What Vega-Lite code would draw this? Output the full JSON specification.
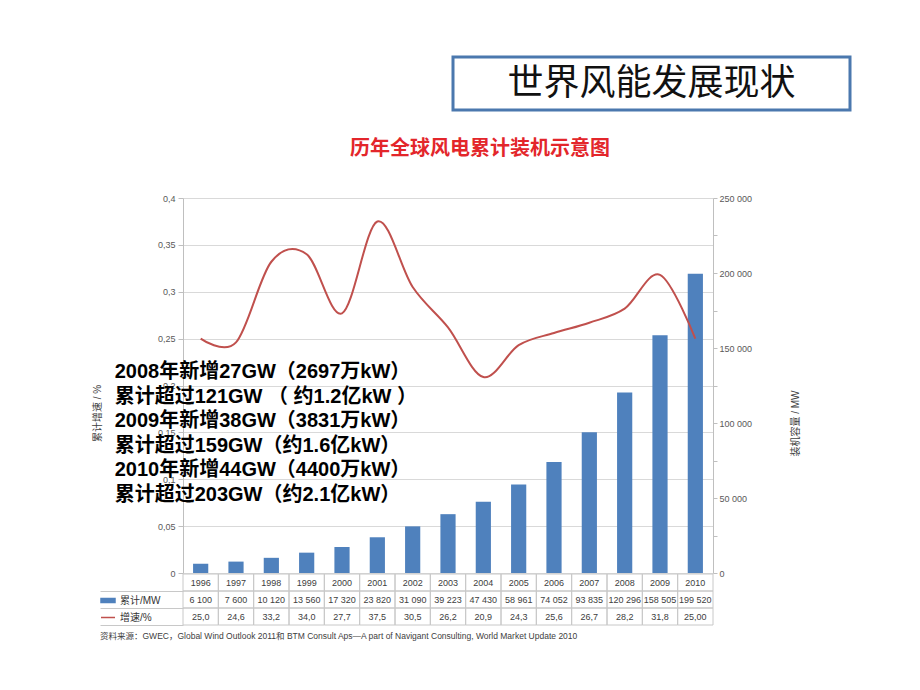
{
  "$schema": "https://vega.github.io/schema/vega-lite/v6.json",
  "autosize": {"type": "none"},
  "padding": {"left": 183, "top": 57, "right": 737, "bottom": 633},
  "background": "white",
  "config": {
    "font": "Liberation Sans, Noto Sans CJK SC",
    "view": {"stroke": null}
  },
  "datasets": {
    "main": [
      {"year": "1996", "mw": 6100, "growth": 0.250},
      {"year": "1997", "mw": 7600, "growth": 0.246},
      {"year": "1998", "mw": 10120, "growth": 0.332},
      {"year": "1999", "mw": 13560, "growth": 0.340},
      {"year": "2000", "mw": 17320, "growth": 0.277},
      {"year": "2001", "mw": 23820, "growth": 0.375},
      {"year": "2002", "mw": 31090, "growth": 0.305},
      {"year": "2003", "mw": 39223, "growth": 0.262},
      {"year": "2004", "mw": 47430, "growth": 0.209},
      {"year": "2005", "mw": 58961, "growth": 0.243},
      {"year": "2006", "mw": 74052, "growth": 0.256},
      {"year": "2007", "mw": 93835, "growth": 0.267},
      {"year": "2008", "mw": 120296, "growth": 0.282},
      {"year": "2009", "mw": 158505, "growth": 0.318},
      {"year": "2010", "mw": 199520, "growth": 0.250}
    ],
    "table": [
      {"year": "1996", "row": "年份", "val": "1996"},
      {"year": "1997", "row": "年份", "val": "1997"},
      {"year": "1998", "row": "年份", "val": "1998"},
      {"year": "1999", "row": "年份", "val": "1999"},
      {"year": "2000", "row": "年份", "val": "2000"},
      {"year": "2001", "row": "年份", "val": "2001"},
      {"year": "2002", "row": "年份", "val": "2002"},
      {"year": "2003", "row": "年份", "val": "2003"},
      {"year": "2004", "row": "年份", "val": "2004"},
      {"year": "2005", "row": "年份", "val": "2005"},
      {"year": "2006", "row": "年份", "val": "2006"},
      {"year": "2007", "row": "年份", "val": "2007"},
      {"year": "2008", "row": "年份", "val": "2008"},
      {"year": "2009", "row": "年份", "val": "2009"},
      {"year": "2010", "row": "年份", "val": "2010"},
      {"year": "1996", "row": "累计/MW", "val": "6 100"},
      {"year": "1997", "row": "累计/MW", "val": "7 600"},
      {"year": "1998", "row": "累计/MW", "val": "10 120"},
      {"year": "1999", "row": "累计/MW", "val": "13 560"},
      {"year": "2000", "row": "累计/MW", "val": "17 320"},
      {"year": "2001", "row": "累计/MW", "val": "23 820"},
      {"year": "2002", "row": "累计/MW", "val": "31 090"},
      {"year": "2003", "row": "累计/MW", "val": "39 223"},
      {"year": "2004", "row": "累计/MW", "val": "47 430"},
      {"year": "2005", "row": "累计/MW", "val": "58 961"},
      {"year": "2006", "row": "累计/MW", "val": "74 052"},
      {"year": "2007", "row": "累计/MW", "val": "93 835"},
      {"year": "2008", "row": "累计/MW", "val": "120 296"},
      {"year": "2009", "row": "累计/MW", "val": "158 505"},
      {"year": "2010", "row": "累计/MW", "val": "199 520"},
      {"year": "1996", "row": "增速/%", "val": "25,0"},
      {"year": "1997", "row": "增速/%", "val": "24,6"},
      {"year": "1998", "row": "增速/%", "val": "33,2"},
      {"year": "1999", "row": "增速/%", "val": "34,0"},
      {"year": "2000", "row": "增速/%", "val": "27,7"},
      {"year": "2001", "row": "增速/%", "val": "37,5"},
      {"year": "2002", "row": "增速/%", "val": "30,5"},
      {"year": "2003", "row": "增速/%", "val": "26,2"},
      {"year": "2004", "row": "增速/%", "val": "20,9"},
      {"year": "2005", "row": "增速/%", "val": "24,3"},
      {"year": "2006", "row": "增速/%", "val": "25,6"},
      {"year": "2007", "row": "增速/%", "val": "26,7"},
      {"year": "2008", "row": "增速/%", "val": "28,2"},
      {"year": "2009", "row": "增速/%", "val": "31,8"},
      {"year": "2010", "row": "增速/%", "val": "25,00"}
    ]
  },
  "bounds": "flush",
  "spacing": 141,
  "resolve": {"scale": {"color": "independent"}, "legend": {"color": "independent"}},
  "vconcat": [
    {
      "bounds": "flush",
      "spacing": 0,
      "hconcat": [
        {
          "width": 270,
          "height": 53,
          "data": {"values": []},
          "mark": {"type": "text"},
          "encoding": {}
        },
        {
          "width": 397,
          "height": 53,
          "view": {"stroke": "#4b78ae", "strokeWidth": 3, "fill": "white"},
          "data": {"values": [{"t": "世界风能发展现状"}]},
          "mark": {"type": "text", "font": "Noto Sans CJK SC", "fontSize": 36, "fontWeight": "normal", "color": "#111111"},
          "encoding": {"text": {"field": "t"}}
        }
      ]
    },
    {
      "bounds": "flush",
      "spacing": 1,
      "resolve": {"scale": {"color": "independent"}, "legend": {"color": "independent"}},
      "vconcat": [
        {
          "width": 530,
          "height": 375,
          "title": {
            "text": "历年全球风电累计装机示意图",
            "font": "Noto Sans CJK SC",
            "fontSize": 20,
            "fontWeight": "bold",
            "color": "#e3262b",
            "anchor": "middle",
            "frame": "group",
            "dx": 32,
            "offset": 35
          },
          "data": {"name": "main"},
          "encoding": {
            "x": {"field": "year", "type": "ordinal", "axis": null, "scale": {"paddingInner": 0, "paddingOuter": 0}}
          },
          "layer": [
            {
              "mark": {"type": "bar", "width": {"band": 0.43}},
              "encoding": {
                "y": {
                  "field": "mw", "type": "quantitative",
                  "scale": {"domain": [0, 250000], "nice": false},
                  "axis": {
                    "orient": "right",
                    "title": "装机容量 / MW",
                    "titleAngle": 270,
                    "titleY": 225,
                    "values": [0, 25000, 50000, 75000, 100000, 125000, 150000, 175000, 200000, 225000, 250000],
                    "labelExpr": "datum.value % 50000 === 0 ? replace(format(datum.value, ','), ',', ' ') : ''",
                    "labelFontSize": 9,
                    "labelColor": "#595959",
                    "labelPadding": 2,
                    "tickSize": 4,
                    "tickColor": "#bfbfbf",
                    "domainColor": "#bfbfbf",
                    "grid": false,
                    "titleFontSize": 10,
                    "titleFontWeight": "normal",
                    "titleColor": "#404040",
                    "titlePadding": 49
                  }
                },
                "color": {
                  "datum": "累计/MW",
                  "scale": {"domain": ["累计/MW", "增速/%"], "range": ["#4f81bd", "#c0504d"]},
                  "legend": {
                    "orient": "none",
                    "legendX": -83,
                    "legendY": 394,
                    "title": null,
                    "direction": "vertical",
                    "padding": 0,
                    "rowPadding": 0,
                    "clipHeight": 17,
                    "symbolSize": 196,
                    "labelOffset": 4,
                    "labelFontSize": 10,
                    "labelColor": "#333333",
                    "encode": {
                      "symbols": {
                        "update": {
                          "shape": {"signal": "datum.value === '累计/MW' ? 'M-1,-0.3H1V0.3H-1Z' : 'stroke'"},
                          "fill": {"signal": "datum.value === '累计/MW' ? '#4f81bd' : 'transparent'"},
                          "stroke": {"signal": "datum.value === '累计/MW' ? 'transparent' : '#c0504d'"},
                          "strokeWidth": {"value": 1.5},
                          "opacity": {"value": 1}
                        }
                      }
                    }
                  }
                }
              }
            },
            {
              "mark": {"type": "line", "interpolate": "cardinal", "strokeWidth": 2},
              "encoding": {
                "y": {
                  "field": "growth", "type": "quantitative",
                  "scale": {"domain": [0, 0.4], "nice": false},
                  "axis": {
                    "orient": "left",
                    "title": "累计增速 / %",
                    "titleY": 215,
                    "values": [0, 0.05, 0.1, 0.15, 0.2, 0.25, 0.3, 0.35, 0.4],
                    "labelExpr": "replace(format(datum.value, '.2~f'), '.', ',')",
                    "labelFontSize": 9,
                    "labelColor": "#595959",
                    "labelPadding": 3,
                    "tickSize": 5,
                    "tickColor": "#bfbfbf",
                    "domainColor": "#bfbfbf",
                    "grid": true,
                    "gridColor": "#d9d9d9",
                    "titleFontSize": 10,
                    "titleFontWeight": "normal",
                    "titleColor": "#404040",
                    "titlePadding": 55
                  }
                },
                "color": {"datum": "增速/%"}
              }
            },
            {
              "data": {"values": [{"note": "2008年新增27GW（2697万kW）\n累计超过121GW （ 约1.2亿kW ）\n2009年新增38GW（3831万kW）\n累计超过159GW（约1.6亿kW）\n2010年新增44GW（4400万kW）\n累计超过203GW（约2.1亿kW）"}]},
              "mark": {
                "type": "text",
                "align": "left",
                "baseline": "alphabetic",
                "dx": -86,
                "fontSize": 20,
                "fontWeight": "bold",
                "lineHeight": 24.5,
                "lineBreak": "\n",
                "color": "#000000"
              },
              "encoding": {
                "x": {"datum": "1996"},
                "y": {"datum": 0.208, "scale": {"domain": [0, 0.4], "nice": false}, "axis": null},
                "text": {"field": "note"}
              }
            }
          ],
          "resolve": {"scale": {"y": "independent"}}
        },
        {
          "width": 530,
          "height": 51,
          "data": {"name": "table"},
          "title": {
            "text": "资料来源：GWEC，Global Wind Outlook 2011和 BTM Consult Aps—A part of Navigant Consulting, World Market Update 2010",
            "orient": "bottom",
            "anchor": "start",
            "frame": "group",
            "dx": -83,
            "offset": 6,
            "fontSize": 8.5,
            "fontWeight": "normal",
            "color": "#404040"
          },
          "encoding": {
            "x": {"field": "year", "type": "ordinal", "axis": null, "scale": {"paddingInner": 0, "paddingOuter": 0}},
            "y": {
              "field": "row", "type": "ordinal",
              "scale": {"domain": ["年份", "累计/MW", "增速/%"], "paddingInner": 0, "paddingOuter": 0},
              "axis": {
                "title": null,
                "labels": false,
                "domain": false,
                "ticks": true,
                "tickSize": 83,
                "bandPosition": 1,
                "tickColor": "#c8c8c8",
                "grid": false
              }
            }
          },
          "layer": [
            {"mark": {"type": "rect", "filled": false, "stroke": "#c8c8c8", "strokeWidth": 1}},
            {
              "mark": {"type": "text", "fontSize": 9, "color": "#404040"},
              "encoding": {"text": {"field": "val"}}
            }
          ]
        }
      ]
    }
  ]
}
